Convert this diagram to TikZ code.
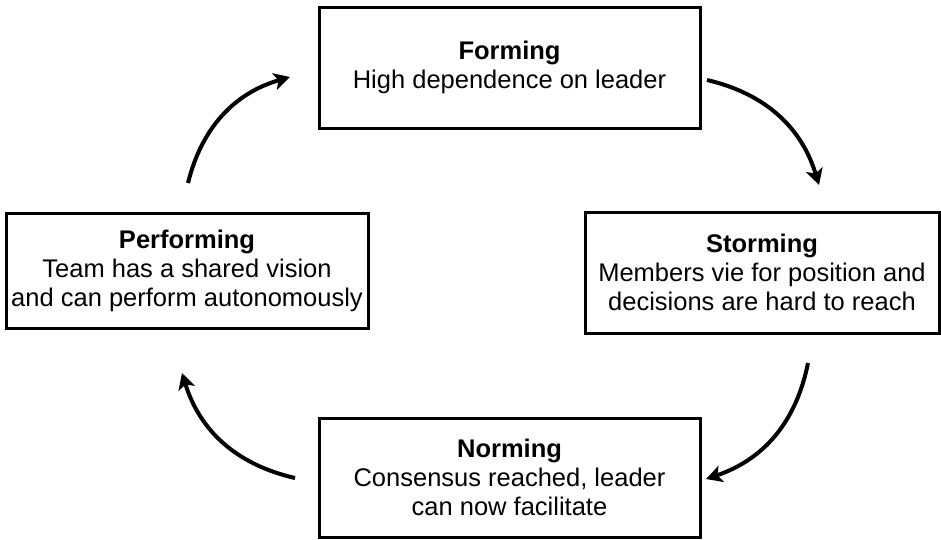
\documentclass[tikz,border=0pt]{standalone}
\usepackage{fontspec}
\setmainfont{Liberation Sans}
\usetikzlibrary{arrows.meta}
\begin{document}
\begin{tikzpicture}[x=1pt,y=-1pt,
  stagebox/.style={draw=black,line width=3pt,rectangle,inner sep=0pt,align=center,
    font=\fontsize{25.5}{29}\selectfont},
  cyclearrow/.style={line width=4pt,-{Stealth[length=16pt,width=17pt,inset=4pt]},bend left=30}]
\useasboundingbox (0,0) rectangle (941,539);
\node[stagebox,minimum width=381pt,minimum height=121pt] (forming) at (509.5,67.5)
  {\textbf{Forming}\\High dependence on leader};
\node[stagebox,minimum width=354pt,minimum height=121pt] (storming) at (762,272.5)
  {\textbf{Storming}\\Members vie for position and\\decisions are hard to reach};
\node[stagebox,minimum width=362pt,minimum height=115pt] (performing) at (187,270.5)
  {\textbf{Performing}\\Team has a shared vision\\and can perform autonomously};
\node[stagebox,minimum width=381pt,minimum height=119pt] (norming) at (509.5,477.5)
  {\textbf{Norming}\\Consensus reached, leader\\can now facilitate};
\coordinate (a1s) at (188,183);
\coordinate (a1e) at (290,77);
\coordinate (a2s) at (707,80);
\coordinate (a2e) at (819,185);
\coordinate (a3s) at (808,363);
\coordinate (a3e) at (706,479);
\coordinate (a4s) at (295,478);
\coordinate (a4e) at (182,373);
\draw[cyclearrow] (a1s) to (a1e);
\draw[cyclearrow] (a2s) to (a2e);
\draw[cyclearrow] (a3s) to (a3e);
\draw[cyclearrow] (a4s) to (a4e);
\end{tikzpicture}
\end{document}
